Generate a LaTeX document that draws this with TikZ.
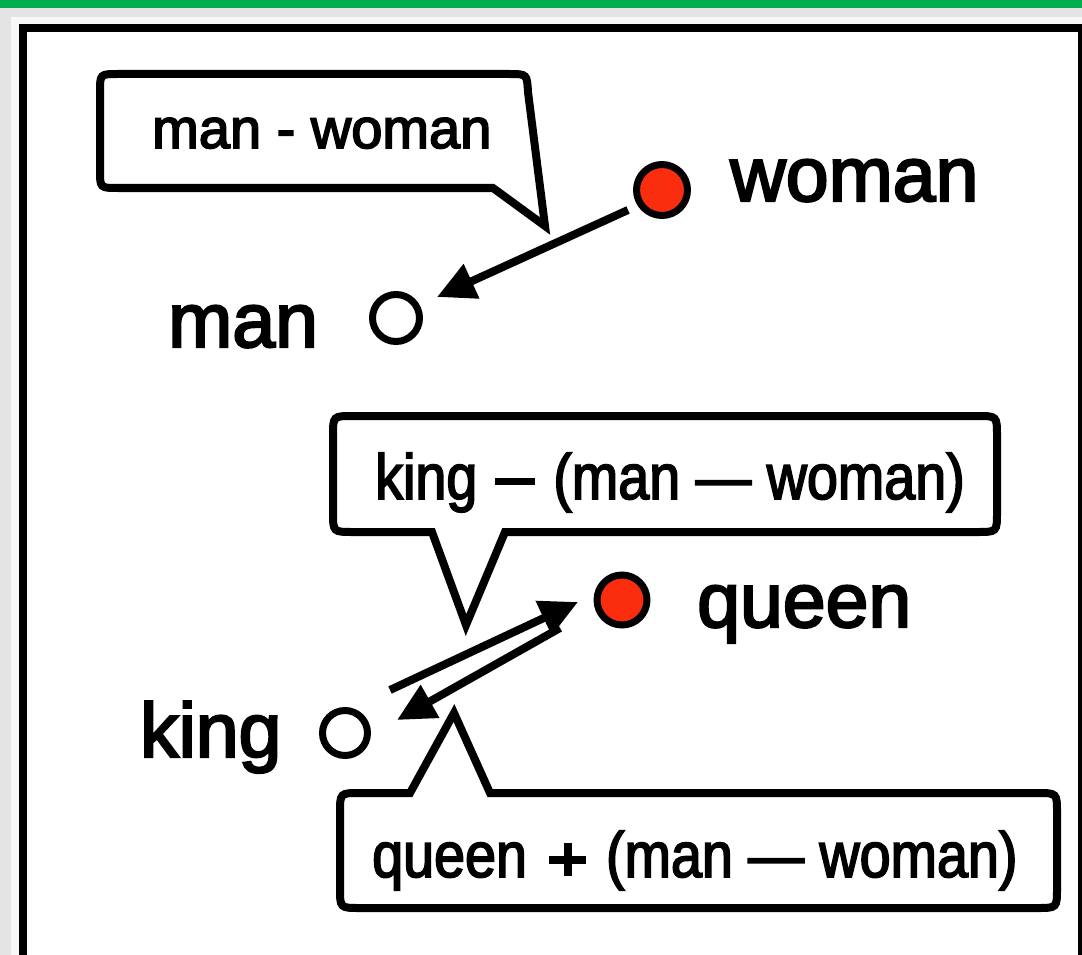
\documentclass[tikz,border=0pt]{standalone}
\usepackage{fontspec}
\usetikzlibrary{arrows.meta,calc}
\newfontfamily\labn{Liberation Sans}[FakeStretch=0.87,FakeBold=2.6]
\newfontfamily\labw{Liberation Sans}[FakeBold=3]
\definecolor{bggray}{RGB}{228,228,228}
\definecolor{topgreen}{RGB}{0,174,80}
\definecolor{panel}{RGB}{248,248,248}
\definecolor{dotred}{RGB}{250,45,15}
\newcommand{\thickplus}{\rlap{\rule[13pt]{37pt}{8pt}}\hspace{14.5pt}\rule[1pt]{8pt}{33pt}\hspace{14.5pt}}
\newcommand{\thickdash}{\rule[14pt]{40pt}{7pt}}
\tikzset{
  bubble/.style={draw=black,line width=8pt,fill=white,line join=miter},
  bigtxt/.style={inner sep=0pt,anchor=base west,font=\labw\fontsize{77}{77}\selectfont},
  smalltxt/.style={inner sep=0pt,anchor=base west,font=\labn\fontsize{64}{64}\selectfont},
  toptxt/.style={inner sep=0pt,anchor=base west,font=\labw\fontsize{56}{56}\selectfont},
  hollow/.style={circle,draw=black,line width=7pt,fill=white,inner sep=0pt},
  filled/.style={circle,draw=black,line width=7pt,fill=dotred,inner sep=0pt},
  arr/.style={line width=8pt,-{Triangle[length=38pt,width=36pt]}},
}
\begin{document}
\begin{tikzpicture}[x=1pt,y=-1pt]
\useasboundingbox (0,0) rectangle (1082,955);
\begin{scope}
\clip (0,0) rectangle (1082,955);
\fill[bggray] (0,0) rectangle (1082,955);
\fill[topgreen] (0,0) rectangle (1082,8);
\fill[panel] (11,17) rectangle (1100,980);
\draw[line width=8pt,fill=white] (23,28.5) rectangle (1081.5,1000);
\end{scope}

% bubble 1
\draw[bubble] (545,226) -- (493,188) -- (118,188) .. controls (100,188) .. (100,170)
  -- (100,92) .. controls (100,74) .. (118,74) -- (509,74) .. controls (527,74) .. (528,92) -- cycle;
\node[toptxt] (t1) at (152,148) {man - woman};

% bubble 2
\draw[bubble] (466,625) -- (432,532) -- (353,532) .. controls (333,532) .. (333,512)
  -- (333,436) .. controls (333,416) .. (353,416) -- (977,416) .. controls (997,416) .. (997,436)
  -- (997,512) .. controls (997,532) .. (977,532) -- (505,532) -- cycle;
\node[smalltxt] (t2) at (375,499) {king\hspace{18pt}\thickdash\hspace{18pt}(man — woman)};

% bubble 3
\draw[bubble] (454,713) -- (490,793) -- (1037,793) .. controls (1057,793) .. (1057,813)
  -- (1057,888) .. controls (1057,908) .. (1037,908) -- (360,908) .. controls (340,908) .. (340,888)
  -- (340,813) .. controls (340,793) .. (360,793) -- (410,793) -- cycle;
\node[smalltxt] (t3) at (372,877) {queen\hspace{22pt}\thickplus\hspace{20pt}(man — woman)};

% points
\node[filled, minimum size=51pt] (woman) at (662,190) {};
\node[hollow, minimum size=47pt] (man) at (396,318) {};
\node[filled, minimum size=50pt] (queen) at (622,600) {};
\node[hollow, minimum size=45pt] (king) at (345,733) {};

% labels
\node[bigtxt] (lwoman) at (730,201) {woman};
\node[bigtxt] (lman) at (168,347) {man};
\node[bigtxt] (lqueen) at (697,627) {queen};
\node[bigtxt] (lking) at (140,757) {king};

% arrows
\draw[arr] ($(woman.center)+(-34,20)$) -- ($(man.center)+(41,-21)$);
\draw[arr] ($(king.center)+(45,-43)$) -- ($(queen.center)+(-44,2)$);
\draw[arr] ($(queen.center)+(-62,28)$) -- ($(king.center)+(52,-13)$);
\end{tikzpicture}
\end{document}
